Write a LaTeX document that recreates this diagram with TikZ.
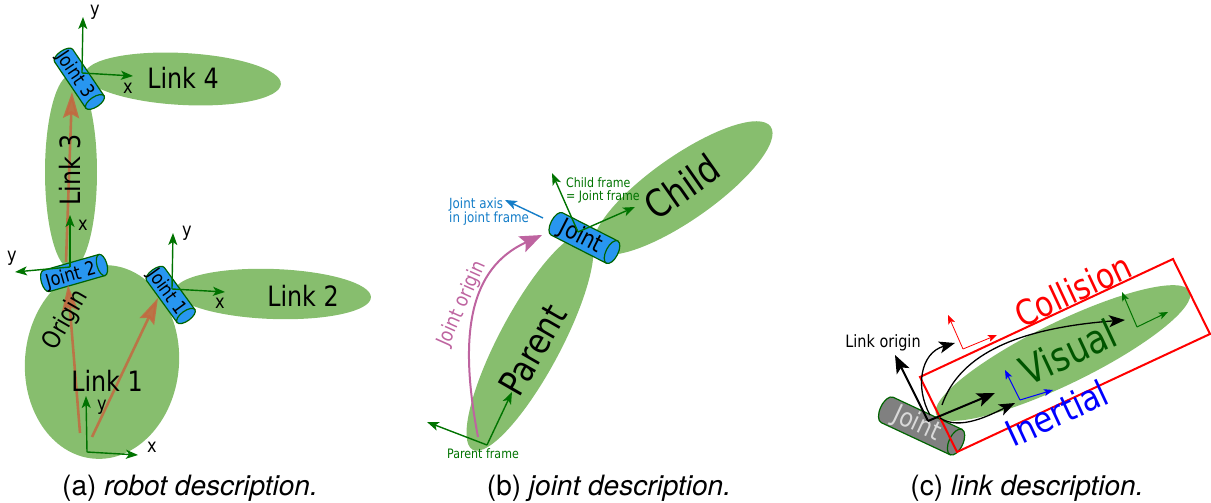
\documentclass[tikz,border=0pt]{standalone}
\usepackage{fontspec}
\setmainfont{DejaVu Sans}[FakeStretch=0.85]
\newfontfamily\capfont{TeX Gyre Heros}
\usetikzlibrary{arrows.meta}

\definecolor{linkgreen}{RGB}{135,190,110}
\definecolor{axisgreen}{RGB}{0,115,0}
\definecolor{jointblue}{RGB}{40,150,240}
\definecolor{jointline}{RGB}{0,100,0}
\definecolor{jointgrey}{RGB}{128,128,128}
\definecolor{chainbrown}{RGB}{195,105,65}
\definecolor{originpink}{RGB}{190,100,160}
\definecolor{axisblue}{RGB}{20,125,200}
\definecolor{visualgreen}{RGB}{0,85,0}

\newcommand{\txtsize}[1]{\fontsize{#1}{#1}\selectfont}
% cylinder: centre, angle, length, diameter, fill, cap radius
\newcommand{\jointbody}[6]{%
  \begin{scope}[shift={#1},rotate=#2]
    \filldraw[draw=jointline,fill=#5,line width=1.2pt] (#3/2,#4/2) -- (-#3/2,#4/2)
      arc[start angle=90,end angle=270,x radius=#6,y radius=#4/2] -- (#3/2,-#4/2) -- cycle;
    \filldraw[draw=jointline,fill=#5,line width=1.2pt] (#3/2,0) ellipse [x radius=#6,y radius=#4/2];
  \end{scope}}

\begin{document}
\begin{tikzpicture}[x=1pt,y=1pt]
\tikzstyle{every node}+=[inner sep=0pt]
\tikzstyle{frameaxis}=[axisgreen,line width=1.4pt,-{Stealth[length=12pt,width=9pt,inset=3pt]}]
\tikzstyle{chainarrow}=[chainbrown,opacity=0.85,line width=2.6pt,-{Stealth[length=26pt,width=16pt,inset=4pt]}]
\tikzstyle{originarrow}=[black,line width=2pt,-{Stealth[length=18pt,width=14pt,inset=4pt]}]
\tikzstyle{poseline}=[black,line width=1.3pt,-{Stealth[length=16pt,width=12pt,inset=4pt]}]
\tikzstyle{thinaxis}=[line width=0.8pt,-{Stealth[length=9pt,width=7pt,inset=2pt]}]
\useasboundingbox (0,0) rectangle (1211,503);

% (a) robot
\fill [linkgreen,rotate around={-2:(273,209)}] (273,209) ellipse [x radius=98,y radius=25];
\fill [linkgreen,rotate around={-3:(183,424)}] (183,424) ellipse [x radius=98,y radius=26];
\fill [linkgreen] (71,331) ellipse [x radius=26,y radius=97];
\fill [linkgreen,rotate around={-5:(102,141)}] (102,141) ellipse [x radius=77,y radius=97];
\jointbody{(79.3,424.2)}{-56}{56}{22}{jointblue}{5}
\jointbody{(74.1,230)}{16}{58}{22}{jointblue}{5}
\jointbody{(170.7,208)}{-54}{52}{22}{jointblue}{5}
\node [rotate=-56,font=\txtsize{19}] (jt3) at (75,428) {Joint 3};
\node [rotate=16,font=\txtsize{19}] (jt2) at (71,227) {Joint 2};
\node [rotate=-54,font=\txtsize{19}] (jt1) at (167,211) {Joint 1};
\coordinate (c1s) at (80,70);
\coordinate (c1e) at (68,218);
\coordinate (c2s) at (92,66);
\coordinate (c2e) at (158,205);
\coordinate (c3s) at (66,241);
\coordinate (c3e) at (72,411);
\draw [chainarrow] (c1s) -- (c1e);
\draw [chainarrow] (c2s) -- (c2e);
\draw [chainarrow] (c3s) -- (c3e);
\coordinate (l0) at (87,51);
\coordinate (l0x) at (138,48);
\coordinate (l0y) at (86,107);
\coordinate (j1) at (172,214);
\coordinate (j1x) at (225,211);
\coordinate (j1y) at (173,270);
\coordinate (j2) at (70,236);
\coordinate (j2x) at (70,288);
\coordinate (j2y) at (15,231);
\coordinate (j3) at (82,430);
\coordinate (j3x) at (133,427);
\coordinate (j3y) at (83,486);
\draw [frameaxis] (l0) -- (l0x);
\draw [frameaxis] (l0) -- (l0y);
\draw [frameaxis] (j1) -- (j1x);
\draw [frameaxis] (j1) -- (j1y);
\draw [frameaxis] (j2) -- (j2x);
\draw [frameaxis] (j2) -- (j2y);
\draw [frameaxis] (j3) -- (j3x);
\draw [frameaxis] (j3) -- (j3y);
\node [font=\txtsize{19}] (l0xl) at (152,56) {x};
\node [font=\txtsize{19}] (l0yl) at (102,96) {y};
\node [font=\txtsize{19}] (j1xl) at (220,200) {x};
\node [font=\txtsize{19}] (j1yl) at (187,270) {y};
\node [font=\txtsize{19}] (j2xl) at (83,278) {x};
\node [font=\txtsize{19}] (j2yl) at (12,245) {y};
\node [font=\txtsize{19}] (j3xl) at (128,415) {x};
\node [font=\txtsize{19}] (j3yl) at (95,491) {y};
\node [font=\txtsize{28}] (link1) at (107,122) {Link 1};
\node [font=\txtsize{28}] (link2) at (303,207) {Link 2};
\node [font=\txtsize{28},rotate=90] (link3) at (70,333) {Link 3};
\node [font=\txtsize{28}] (link4) at (183,425) {Link 4};
\node [font=\txtsize{25},rotate=60] (orig) at (66,183) {Origin};

% (b) joint
\fill [linkgreen,rotate around={62:(530,161)}] (530,161) ellipse [x radius=122,y radius=31];
\fill [linkgreen,rotate around={35:(683,315)}] (683,315) ellipse [x radius=107,y radius=32];
\coordinate (jo0) at (478,66);
\coordinate (jo1) at (542,268);
\draw [originpink,line width=2pt,-{Stealth[length=22pt,width=17pt,inset=4pt]}] (jo0) .. controls (458,170) and (470,235) .. (jo1);
\jointbody{(584.4,265)}{-27}{62}{25}{jointblue}{6}
\node [rotate=-27,font=\txtsize{24}] (jt) at (581,266) {Joint};
\coordinate (ja0) at (543,285);
\coordinate (ja1) at (505,303);
\draw [axisblue,line width=1.4pt,-{Stealth[length=12pt,width=9pt,inset=3pt]}] (ja0) -- (ja1);
\coordinate (cf) at (578,271);
\coordinate (cfa) at (552,330);
\coordinate (cfb) at (635,296);
\coordinate (pf) at (487,58);
\coordinate (pfa) at (427,81);
\coordinate (pfb) at (512,111);
\draw [frameaxis] (cf) -- (cfa);
\draw [frameaxis] (cf) -- (cfb);
\draw [frameaxis] (pf) -- (pfa);
\draw [frameaxis] (pf) -- (pfb);
\node [font=\txtsize{14},text=axisblue,align=left,anchor=west] (jaxis) at (449,291) {\fontsize{14}{15}\selectfont Joint axis\\in joint frame};
\node [font=\txtsize{13},text=axisgreen,align=left,anchor=west] (cframe) at (566,313) {\fontsize{13}{14}\selectfont Child frame\\= Joint frame};
\node [font=\txtsize{13},text=axisgreen] (pframe) at (483,49) {Parent frame};
\node [font=\txtsize{36},rotate=60] (parent) at (533,153) {Parent};
\node [font=\txtsize{38},rotate=35] (child) at (682,316) {Child};
\node [font=\txtsize{20},rotate=66,text=originpink] (jorig) at (462,199) {Joint origin};

% (c) link
\fill [linkgreen,rotate around={26:(1063,150)}] (1063,150) ellipse [x radius=141,y radius=31];
\jointbody{(921.6,77)}{-25}{76}{28}{jointgrey}{7}
\node [rotate=-25,font=\txtsize{26},text=black!15] (jtc) at (917,79) {Joint};
\coordinate (r1) at (920,126);
\coordinate (r2) at (1173,244);
\coordinate (r3) at (1210,169);
\coordinate (r4) at (957,51);
\draw [red,line width=2pt] (r1) -- (r2) -- (r3) -- (r4) -- cycle;
\coordinate (lo) at (928,82);
\coordinate (loa) at (895,148);
\coordinate (lob) at (995,110);
\draw [originarrow] (lo) -- (loa);
\draw [originarrow] (lo) -- (lob);
\coordinate (k1s) at (930,88);
\coordinate (k1e) at (955,160);
\coordinate (k2s) at (942,98);
\coordinate (k2e) at (1125,183);
\coordinate (k3s) at (940,85);
\coordinate (k3e) at (1015,100);
\draw [poseline] (k1s) .. controls (915,115) and (920,150) .. (k1e);
\draw [poseline] (k2s) .. controls (960,150) and (1020,175) .. (k2e);
\draw [poseline] (k3s) .. controls (960,72) and (990,88) .. (k3e);
\coordinate (col) at (963,154);
\coordinate (coly) at (948,188);
\coordinate (colx) at (997,168);
\coordinate (ine) at (1020,103);
\coordinate (iney) at (1005,133);
\coordinate (inex) at (1053,113);
\coordinate (vis) at (1137,176);
\coordinate (visy) at (1122,211);
\coordinate (visx) at (1168,191);
\draw [thinaxis,red] (col) -- (coly);
\draw [thinaxis,red] (col) -- (colx);
\draw [thinaxis,blue,line width=1pt] (ine) -- (iney);
\draw [thinaxis,blue,line width=1pt] (ine) -- (inex);
\draw [thinaxis,axisgreen,line width=1pt] (vis) -- (visy);
\draw [thinaxis,axisgreen,line width=1pt] (vis) -- (visx);
\node [font=\txtsize{35},rotate=25,text=red] (coll) at (1073,213) {Collision};
\node [font=\txtsize{40},rotate=25,text=visualgreen] (visual) at (1068,151) {Visual};
\node [font=\txtsize{36},rotate=25,text=blue] (inert) at (1057,90) {Inertial};
\node [font=\txtsize{17}] (lorig) at (883,160) {Link origin};

% captions
\node [font=\capfont\txtsize{28}] (capa) at (190,15) {(a) \textit{robot description.}};
\node [font=\capfont\txtsize{28}] (capb) at (609,15) {(b) \textit{joint description.}};
\node [font=\capfont\txtsize{28}] (capc) at (1027,15) {(c) \textit{link description.}};
\end{tikzpicture}
\end{document}
